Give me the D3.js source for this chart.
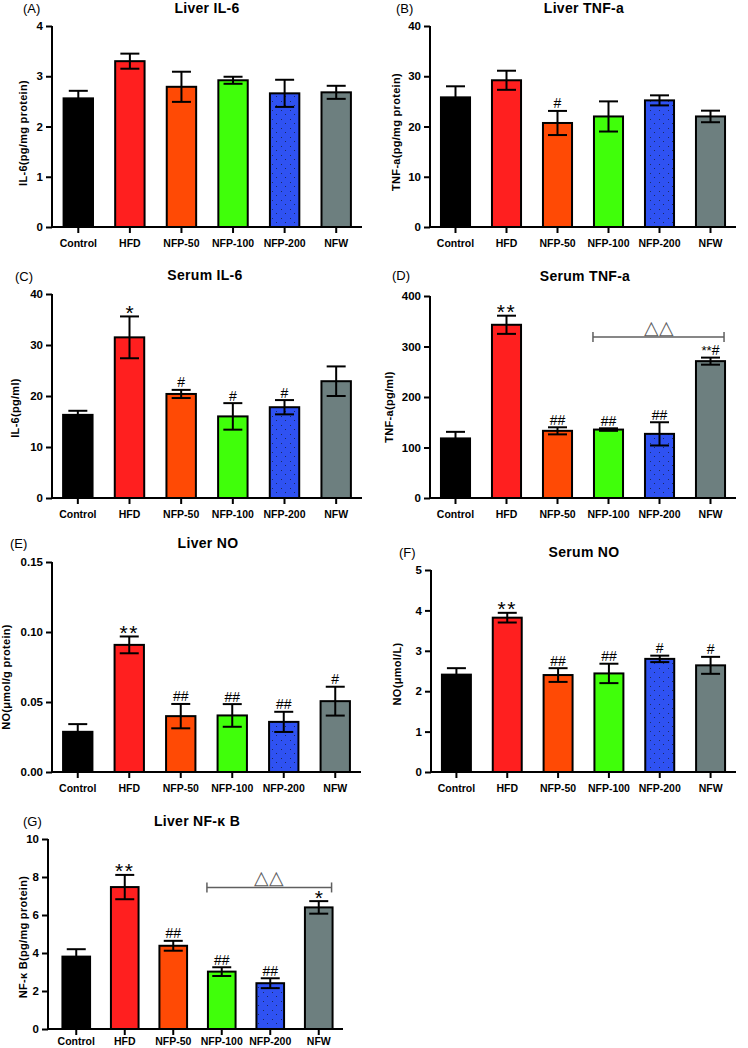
<!DOCTYPE html>
<html>
<head>
<meta charset="utf-8">
<script src="https://cdn.jsdelivr.net/npm/d3@7"></script>
<style>
  html, body { margin: 0; padding: 0; background: #fff; }
  svg { display: block; }
  text { font-family: "Liberation Sans", Arial, Helvetica, sans-serif; }
</style>
</head>
<body>
<svg id="chart" width="748" height="1048"></svg>
<script>
// ---------------- DATA ----------------
const categories = ["Control", "HFD", "NFP-50", "NFP-100", "NFP-200", "NFW"];

const liverIL6    = [2.56, 3.30, 2.79, 2.92, 2.66, 2.68];
const liverIL6Err = [0.15, 0.15, 0.30, 0.07, 0.27, 0.13];
const liverIL6Ticks = [0, 1, 2, 3, 4];
const liverIL6Ann = ["", "", "", "", "", ""];

const liverTNF    = [25.8, 29.2, 20.7, 22.0, 25.2, 22.0];
const liverTNFErr = [2.2, 1.9, 2.4, 3.0, 1.0, 1.15];
const liverTNFTicks = [0, 10, 20, 30, 40];
const liverTNFAnn = ["", "", "#", "", "", ""];

const serumIL6    = [16.3, 31.5, 20.4, 16.0, 17.8, 22.9];
const serumIL6Err = [0.8, 4.1, 0.8, 2.6, 1.4, 2.9];
const serumIL6Ticks = [0, 10, 20, 30, 40];
const serumIL6Ann = ["", "*", "#", "#", "#", ""];

const serumTNF    = [118, 343, 133, 135.5, 127, 271];
const serumTNFErr = [13, 18, 7, 2.5, 23, 7];
const serumTNFTicks = [0, 100, 200, 300, 400];
const serumTNFAnn = ["", "**", "##", "##", "##", "**#"];
const serumTNFBracket = { from: "NFP-100", to: "NFW", value: 319, label: "△△" };

const liverNO    = [0.0287, 0.0908, 0.0399, 0.0404, 0.0358, 0.0506];
const liverNOErr = [0.0055, 0.0060, 0.0087, 0.0081, 0.0072, 0.0103];
const liverNOTicks = [0, 0.05, 0.10, 0.15];
const liverNOAnn = ["", "**", "##", "##", "##", "#"];

const serumNO    = [2.41, 3.82, 2.40, 2.44, 2.80, 2.64];
const serumNOErr = [0.16, 0.12, 0.17, 0.24, 0.08, 0.21];
const serumNOTicks = [0, 1, 2, 3, 4, 5];
const serumNOAnn = ["", "**", "##", "##", "#", "#"];

const liverNFkB    = [3.81, 7.47, 4.38, 3.02, 2.41, 6.40];
const liverNFkBErr = [0.39, 0.64, 0.26, 0.23, 0.26, 0.33];
const liverNFkBTicks = [0, 2, 4, 6, 8, 10];
const liverNFkBAnn = ["", "**", "##", "##", "##", "*"];
const liverNFkBBracket = { from: "NFP-100", to: "NFW", value: 7.45, label: "△△" };

// ---------------- STYLE / LAYOUT ----------------
const barColors = ["#000000", "#ff1f1f", "#ff4a05", "#40ff0a", "#2f52f2", "#6d7f7f"];

const panels = [
  { letter: "(A)", title: "Liver IL-6", yLabel: "IL-6(pg/mg protein)", values: liverIL6, errors: liverIL6Err, ticks: liverIL6Ticks, ann: liverIL6Ann, fmt: "d",
    L: { axisX: 52, bx0: 52.5, bx1: 362, xEnd: 362, yTop: 26, yBot: 227, titleX: 207, titleY: 13, letterX: 23, letterY: 13, yLabX: 23, yLabY: 133, xLabDy: 20 } },
  { letter: "(B)", title: "Liver TNF-a", yLabel: "TNF-a(pg/mg protein)", values: liverTNF, errors: liverTNFErr, ticks: liverTNFTicks, ann: liverTNFAnn, fmt: "d",
    L: { axisX: 430, bx0: 430, bx1: 736, xEnd: 736, yTop: 26, yBot: 227, titleX: 584, titleY: 13, letterX: 396, letterY: 13, yLabX: 396, yLabY: 132, xLabDy: 20 } },
  { letter: "(C)", title: "Serum IL-6", yLabel: "IL-6(pg/ml)", values: serumIL6, errors: serumIL6Err, ticks: serumIL6Ticks, ann: serumIL6Ann, fmt: "d",
    L: { axisX: 52, bx0: 52, bx1: 362, xEnd: 362, yTop: 294, yBot: 498, titleX: 205, titleY: 280, letterX: 15, letterY: 281, yLabX: 15, yLabY: 408, xLabDy: 20 } },
  { letter: "(D)", title: "Serum TNF-a", yLabel: "TNF-a(pg/ml)", values: serumTNF, errors: serumTNFErr, ticks: serumTNFTicks, ann: serumTNFAnn, fmt: "d", bracket: serumTNFBracket,
    L: { axisX: 430, bx0: 430, bx1: 736, xEnd: 736, yTop: 296, yBot: 498, titleX: 585, titleY: 281, letterX: 392, letterY: 280, yLabX: 389, yLabY: 407, xLabDy: 20 } },
  { letter: "(E)", title: "Liver NO", yLabel: "NO(μmol/g protein)", values: liverNO, errors: liverNOErr, ticks: liverNOTicks, ann: liverNOAnn, fmt: ".2f",
    L: { axisX: 52, bx0: 52, bx1: 361, xEnd: 361, yTop: 562, yBot: 772, titleX: 208, titleY: 548, letterX: 10, letterY: 548, yLabX: 6, yLabY: 677, xLabDy: 20 } },
  { letter: "(F)", title: "Serum NO", yLabel: "NO(μmol/L)", values: serumNO, errors: serumNOErr, ticks: serumNOTicks, ann: serumNOAnn, fmt: "d",
    L: { axisX: 431, bx0: 431, bx1: 736, xEnd: 736, yTop: 570, yBot: 772, titleX: 584, titleY: 557, letterX: 399, letterY: 557, yLabX: 397, yLabY: 674, xLabDy: 20 } },
  { letter: "(G)", title: "Liver NF-κ B", yLabel: "NF-κ B(pg/mg protein)", values: liverNFkB, errors: liverNFkBErr, ticks: liverNFkBTicks, ann: liverNFkBAnn, fmt: "d", bracket: liverNFkBBracket,
    L: { axisX: 48, bx0: 52, bx1: 343, xEnd: 343, yTop: 839, yBot: 1029, titleX: 197, titleY: 826, letterX: 23, letterY: 826, yLabX: 23, yLabY: 937, xLabDy: 16 } }
];

// ---------------- DRAW ----------------
const svg = d3.select("#chart");
svg.append("rect").attr("width", 748).attr("height", 1048).attr("fill", "#fff");

// dotted pattern for NFP-200
const defs = svg.append("defs");
const pat = defs.append("pattern").attr("id", "dots").attr("patternUnits", "userSpaceOnUse")
  .attr("width", 9).attr("height", 9);
pat.append("rect").attr("width", 9).attr("height", 9).attr("fill", barColors[4]);
pat.append("rect").attr("x", 2).attr("y", 2).attr("width", 1).attr("height", 1).attr("fill", "#1a2a60");
pat.append("rect").attr("x", 6).attr("y", 6).attr("width", 1).attr("height", 1).attr("fill", "#1a2a60");

panels.forEach(p => {
  const L = p.L;
  const g = svg.append("g");
  const x = d3.scaleBand().domain(categories).range([L.bx0, L.bx1]).paddingInner(0.43).paddingOuter(0.215);
  const y = d3.scaleLinear().domain([0, p.ticks[p.ticks.length - 1]]).range([L.yBot, L.yTop]);
  const bw = x.bandwidth();

  // bars
  g.selectAll("rect.bar").data(categories).enter().append("rect")
    .attr("class", "bar")
    .attr("x", d => x(d))
    .attr("y", (d, i) => y(p.values[i]))
    .attr("width", bw)
    .attr("height", (d, i) => y(0) - y(p.values[i]))
    .attr("fill", (d, i) => i === 4 ? "url(#dots)" : barColors[i])
    .attr("stroke", "#000").attr("stroke-width", 2);

  // error bars
  const cap = 9.5;
  categories.forEach((c, i) => {
    const cx = x(c) + bw / 2;
    const hi = y(p.values[i] + p.errors[i]);
    const lo = y(p.values[i] - p.errors[i]);
    g.append("line").attr("x1", cx).attr("x2", cx).attr("y1", hi).attr("y2", lo)
      .attr("stroke", "#000").attr("stroke-width", 2);
    [hi, lo].forEach(yy => g.append("line").attr("x1", cx - cap).attr("x2", cx + cap)
      .attr("y1", yy).attr("y2", yy).attr("stroke", "#000").attr("stroke-width", 2));

    // annotation
    const a = p.ann[i];
    if (a) {
      const t = g.append("text").attr("x", cx).attr("text-anchor", "middle").attr("fill", "#000");
      if (/^\*+$/.test(a)) {
        t.attr("y", hi + 3.5).attr("font-size", 21).attr("letter-spacing", a.length > 1 ? 1.5 : 0).text(a);
      } else if (/^#+$/.test(a)) {
        t.attr("y", hi - 2.5).attr("font-size", 14).text(a);
      } else {
        t.attr("y", hi - 2.5);
        const stars = a.replace(/#/g, "");
        const hashes = a.replace(/\*/g, "");
        t.append("tspan").attr("font-size", 13).attr("dy", 0).text(stars);
        t.append("tspan").attr("font-size", 14).attr("dy", 0).text(hashes);
      }
    }
  });

  // bracket
  if (p.bracket) {
    const b = p.bracket;
    const bx1 = x(b.from) - 1;
    const bx2 = x(b.to) + bw - 1;
    const by = y(b.value);
    const col = "#5f5f5f";
    g.append("line").attr("x1", bx1).attr("x2", bx2).attr("y1", by).attr("y2", by).attr("stroke", col).attr("stroke-width", 1.5);
    [bx1, bx2].forEach(xx => g.append("line").attr("x1", xx).attr("x2", xx).attr("y1", by - 5).attr("y2", by + 5).attr("stroke", col).attr("stroke-width", 1.5));
    g.append("text").attr("x", (bx1 + bx2) / 2).attr("y", by - 3).attr("text-anchor", "middle")
      .attr("font-size", 19).attr("fill", col).attr("letter-spacing", 0).text(b.label);
  }

  // y axis
  const yAxis = d3.axisLeft(y).tickValues(p.ticks).tickSize(6).tickPadding(3)
    .tickFormat(d3.format(p.fmt));
  const ya = g.append("g").attr("transform", `translate(${L.axisX},0)`).call(yAxis);
  ya.select(".domain").attr("stroke", "#000").attr("stroke-width", 2).attr("d", `M0,${L.yBot}V${L.yTop}`);
  ya.selectAll(".tick line").attr("stroke", "#000").attr("stroke-width", 2);
  ya.selectAll(".tick text").attr("font-size", 11.5).attr("font-weight", "bold").attr("fill", "#000")
    .attr("font-family", '"Liberation Sans", Arial, sans-serif');

  // x axis
  const xAxis = d3.axisBottom(x).tickSize(6).tickPadding(5);
  const xa = g.append("g").attr("transform", `translate(0,${L.yBot})`).call(xAxis);
  xa.select(".domain").attr("stroke", "#000").attr("stroke-width", 2).attr("d", `M${L.axisX - 1},0H${L.xEnd}`);
  xa.selectAll(".tick line").attr("stroke", "#000").attr("stroke-width", 2);
  xa.selectAll(".tick text").attr("font-size", 10.5).attr("font-weight", "bold").attr("fill", "#000")
    .attr("y", L.xLabDy).attr("dy", 0)
    .attr("font-family", '"Liberation Sans", Arial, sans-serif');

  // y label
  g.append("text").attr("transform", `translate(${L.yLabX},${L.yLabY}) rotate(-90)`)
    .attr("text-anchor", "middle").attr("dy", "0.35em")
    .attr("font-size", 11).attr("font-weight", "bold").attr("letter-spacing", 0.3).text(p.yLabel);

  // title
  g.append("text").attr("x", L.titleX).attr("y", L.titleY).attr("text-anchor", "middle")
    .attr("font-size", 14).attr("font-weight", "bold").attr("letter-spacing", 0.3).text(p.title);

  // panel letter
  g.append("text").attr("x", L.letterX).attr("y", L.letterY)
    .attr("font-size", 13).text(p.letter);
});
</script>
</body>
</html>
